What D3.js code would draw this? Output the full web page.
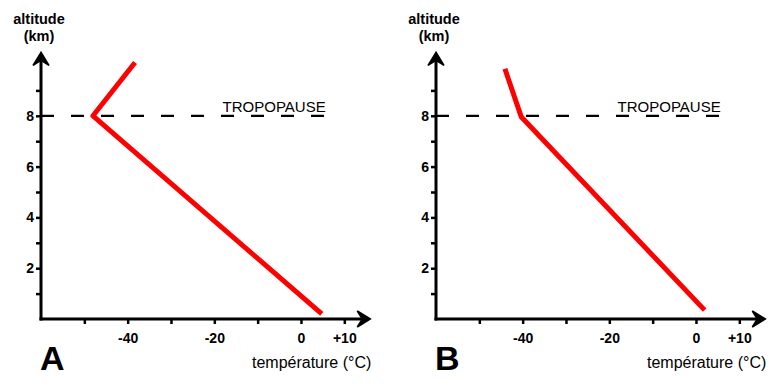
<!DOCTYPE html>
<html>
<head>
<meta charset="utf-8">
<script src="https://cdn.jsdelivr.net/npm/d3@7"></script>
<style>
  html, body { margin: 0; padding: 0; background: #fff; }
  svg { display: block; }
  text { font-family: "Liberation Sans", Arial, Helvetica, sans-serif; fill: #000; }
</style>
</head>
<body>
<svg id="chart" width="774" height="385"></svg>
<script>
// ---- data ----
const panelLabels = ["A", "B"];
// temperature (°C) / altitude (km) profiles
const profileA_temp = [4.8, -48, -38.3];
const profileA_alt  = [0.2, 8.0, 10.1];
const profileB_temp = [2.0, -40.3, -44.1];
const profileB_alt  = [0.35, 7.95, 9.85];
const xTickValues = [-50, -40, -30, -20, -10, 0, 10];
const xTickLabels = {"-40": "-40", "-20": "-20", "0": "0", "10": "+10"};
const yTickValues = [1, 2, 3, 4, 5, 6, 7, 8, 9];
const yTickLabels = {"2": "2", "4": "4", "6": "6", "8": "8"};
const tropopauseAltitude = 8;
const tropopauseEndTemp = 5.7;
const tropopauseLabel = "TROPOPAUSE";
const xTitle = "température (°C)";
const yTitle = ["altitude", "(km)"];
const xDomain = [-60, 16];
const yDomain = [0, 10.5];

const profiles = [
  profileA_temp.map((t, i) => ({t, a: profileA_alt[i]})),
  profileB_temp.map((t, i) => ({t, a: profileB_alt[i]}))
];

const svg = d3.select("#chart");
const panelOffset = 395;

function drawPanel(idx) {
  const ox = idx * panelOffset;
  const x = d3.scaleLinear().domain(xDomain).range([41 + ox, 370.3 + ox]);
  const y = d3.scaleLinear().domain(yDomain).range([319, 52.3]);
  const g = svg.append("g");

  // tropopause dashed line
  g.append("line")
    .attr("x1", x(xDomain[0])).attr("x2", x(tropopauseEndTemp))
    .attr("y1", y(tropopauseAltitude)).attr("y2", y(tropopauseAltitude))
    .attr("stroke", "#000").attr("stroke-width", 2.2)
    .attr("stroke-dasharray", "13,17");

  // tropopause label
  g.append("text")
    .attr("x", x(tropopauseEndTemp)).attr("y", y(tropopauseAltitude) - 3.5)
    .attr("text-anchor", "end")
    .style("font-size", "15px")
    .text(tropopauseLabel);

  // y axis
  const yAxis = d3.axisLeft(y).tickValues(yTickValues)
    .tickSize(5).tickSizeOuter(0).tickFormat(d => yTickLabels[d] || "");
  const ya = g.append("g").attr("transform", `translate(${x(xDomain[0])},0)`).call(yAxis);
  ya.select(".domain").remove();
  ya.selectAll(".tick line").attr("stroke", "#000").attr("stroke-width", 2.5);
  ya.selectAll(".tick text").attr("x", -7)
    .style("font-family", "'Liberation Sans', Arial, sans-serif")
    .style("font-size", "14px").style("font-weight", "bold");

  // x axis
  const xAxis = d3.axisBottom(x).tickValues(xTickValues)
    .tickSize(5).tickSizeOuter(0).tickFormat(d => xTickLabels[String(d)] || "");
  const xa = g.append("g").attr("transform", `translate(0,${y(0)})`).call(xAxis);
  xa.select(".domain").remove();
  xa.selectAll(".tick line").attr("stroke", "#000").attr("stroke-width", 2.5);
  xa.selectAll(".tick text").attr("y", 14)
    .style("font-family", "'Liberation Sans', Arial, sans-serif")
    .style("font-size", "14px").style("font-weight", "bold");

  // axis lines
  const x0 = x(xDomain[0]), y0 = y(0);
  const yTop = y(yDomain[1]), xEnd = x(xDomain[1]);
  g.append("line").attr("x1", x0).attr("x2", x0).attr("y1", y0 + 1.5).attr("y2", yTop + 6)
    .attr("stroke", "#000").attr("stroke-width", 3);
  g.append("line").attr("x1", x0 - 1.5).attr("x2", xEnd - 6).attr("y1", y0).attr("y2", y0)
    .attr("stroke", "#000").attr("stroke-width", 3);
  // arrowheads
  g.append("path")
    .attr("d", `M${x0},${yTop} L${x0 - 8},${yTop + 13} L${x0},${yTop + 8} L${x0 + 8},${yTop + 13} Z`)
    .attr("fill", "#000").attr("stroke", "#000").attr("stroke-width", 1.5).attr("stroke-linejoin", "miter");
  g.append("path")
    .attr("d", `M${xEnd},${y0} L${xEnd - 13},${y0 - 8} L${xEnd - 8},${y0} L${xEnd - 13},${y0 + 8} Z`)
    .attr("fill", "#000").attr("stroke", "#000").attr("stroke-width", 1.5).attr("stroke-linejoin", "miter");

  // profile line
  const line = d3.line().x(d => x(d.t)).y(d => y(d.a));
  g.append("path").datum(profiles[idx])
    .attr("d", line)
    .attr("fill", "none").attr("stroke", "#ff0000").attr("stroke-width", 5)
    .attr("stroke-linejoin", "round").attr("stroke-linecap", "butt");

  // y title
  g.append("text").attr("x", x0 - 2).attr("y", 24).attr("text-anchor", "middle")
    .style("font-size", "14.5px").style("font-weight", "bold").text(yTitle[0]);
  g.append("text").attr("x", x0 - 2).attr("y", 41).attr("text-anchor", "middle")
    .style("font-size", "14.5px").style("font-weight", "bold").text(yTitle[1]);

  // x title
  g.append("text").attr("x", xEnd + 1).attr("y", 368).attr("text-anchor", "end")
    .style("font-size", "16px").text(xTitle);

  // panel label
  g.append("text").attr("x", x0 - 1).attr("y", 370)
    .style("font-size", "34px").style("font-weight", "bold").text(panelLabels[idx]);
}

drawPanel(0);
drawPanel(1);
</script>
</body>
</html>
